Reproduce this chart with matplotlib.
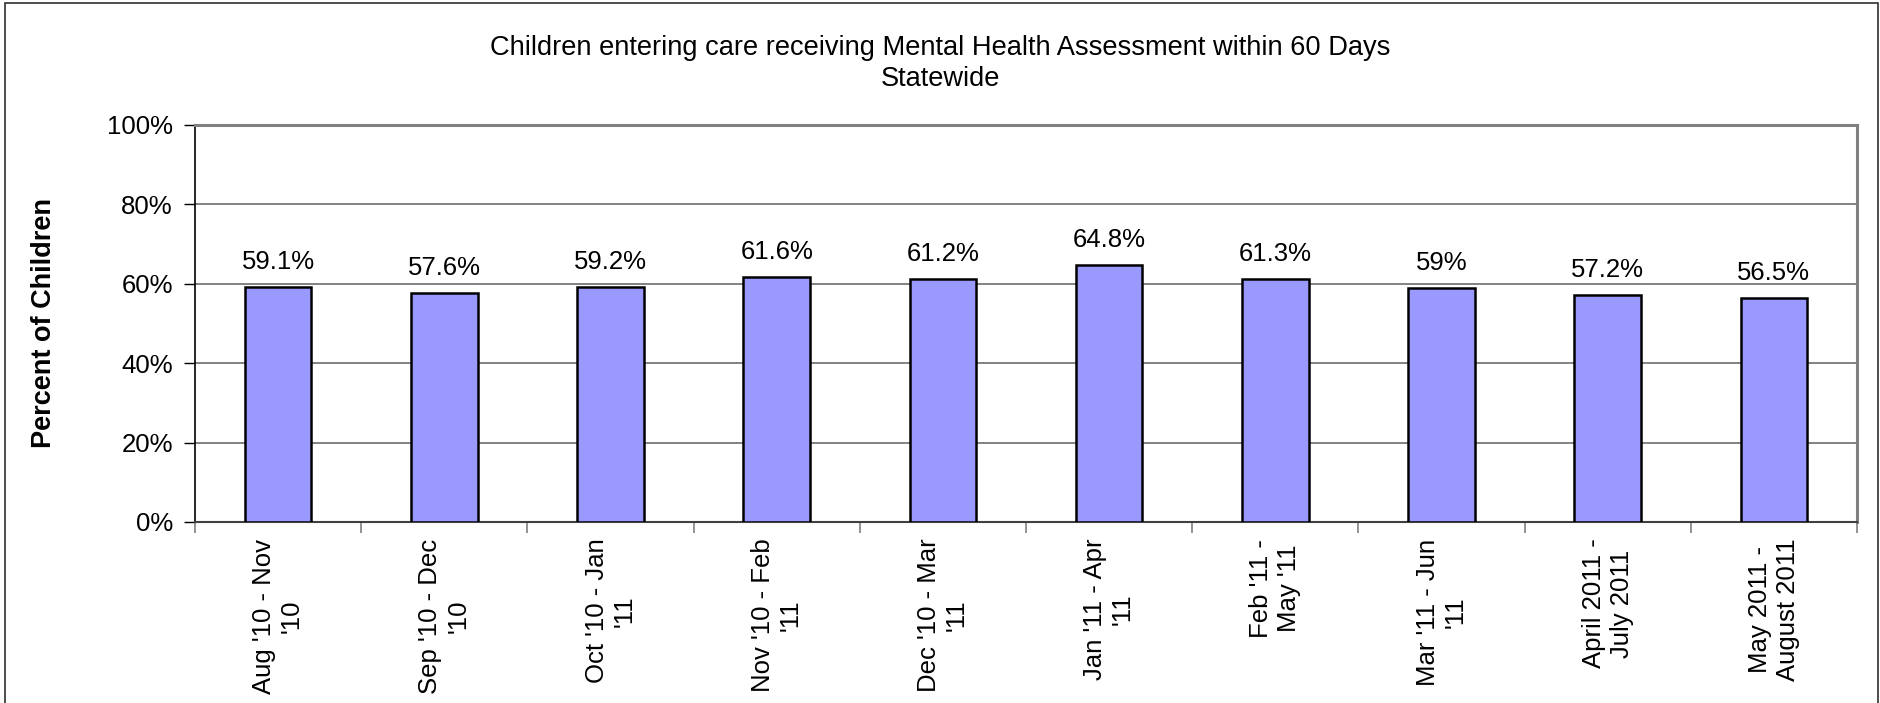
import matplotlib.pyplot as plt
import numpy as np

plt.rcParams['font.family'] = ['Liberation Sans', 'DejaVu Sans']

# periods and percent of children assessed
periods = ["Aug '10 - Nov\n'10", "Sep '10 - Dec\n'10", "Oct '10 - Jan\n'11",
           "Nov '10 - Feb\n'11", "Dec '10 - Mar\n'11", "Jan '11 - Apr\n'11",
           "Feb '11 -\nMay '11", "Mar '11 - Jun\n'11", "April 2011 -\nJuly 2011",
           "May 2011 -\nAugust 2011"]
values = [59.1, 57.6, 59.2, 61.6, 61.2, 64.8, 61.3, 59.0, 57.2, 56.5]
value_labels = ["59.1%", "57.6%", "59.2%", "61.6%", "61.2%", "64.8%",
                "61.3%", "59%", "57.2%", "56.5%"]

fig = plt.figure(figsize=(18.81, 7.03), dpi=100)
ax = fig.add_axes([0.1037, 0.2575, 0.8835, 0.5647])

x = np.arange(len(values))
ax.bar(x, values, width=0.4, color='#9999FF', edgecolor='black', linewidth=1.8, zorder=3)

for xi, v, lab in zip(x, values, value_labels):
    ax.annotate(lab, (xi, v), xytext=(0, 13), textcoords='offset points',
                ha='center', va='baseline', fontsize=18.5)

ax.set_xlim(-0.5, len(values) - 0.5)
ax.set_ylim(0, 100)
ax.set_yticks(range(0, 101, 20))
ax.set_yticklabels([f"{t}%" for t in range(0, 101, 20)], fontsize=18.5)
ax.yaxis.grid(True, color='#606060', linewidth=1.1, zorder=0)

# category labels go on minor ticks, boundary marks on major ticks
ax.set_xticks(np.arange(-0.5, len(values), 1.0))
ax.set_xticklabels([])
ax.set_xticks(x, minor=True)
ax.set_xticklabels(periods, minor=True, rotation=90, fontsize=18.5,
                   ha='center', va='top', multialignment='center')
ax.tick_params(axis='x', which='major', length=8, width=1.2, color='#808080')
ax.tick_params(axis='x', which='minor', length=0, pad=12)
ax.tick_params(axis='y', length=8, width=1.0, color='black', pad=8)

ax.spines['left'].set_color('black')
ax.spines['left'].set_linewidth(1.2)
ax.spines['bottom'].set_color('#404040')
ax.spines['bottom'].set_linewidth(1.5)
for s in ('top', 'right'):
    ax.spines[s].set_color('#808080')
    ax.spines[s].set_linewidth(2.2)

ax.set_ylabel('Percent of Children', fontsize=19.5, fontweight='bold')
ax.yaxis.set_label_coords(-0.083, 0.5)

fig.text(0.5, 0.9218, 'Children entering care receiving Mental Health Assessment within 60 Days',
         ha='center', va='baseline', fontsize=19.6)
fig.text(0.5, 0.877, 'Statewide', ha='center', va='baseline', fontsize=19.6)

# outer frame around the chart area
frame = plt.Rectangle((0.0027, -0.05), 0.9957, 1.0457, transform=fig.transFigure,
                      fill=False, edgecolor='#303030', linewidth=1.2)
fig.patches.append(frame)

fig.savefig('out.png', dpi=100)
